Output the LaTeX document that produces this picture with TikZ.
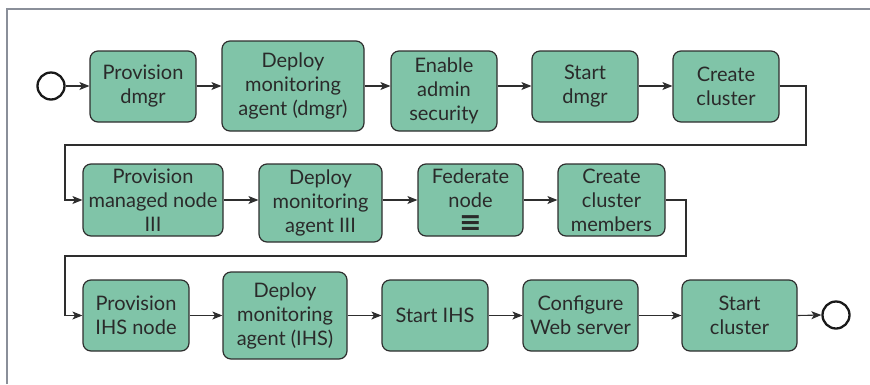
\documentclass[tikz,border=0pt]{standalone}
\usepackage{fontspec}
\setmainfont{Lato}
\newfontfamily\symfont{DejaVu Sans}
\usetikzlibrary{arrows.meta}
\definecolor{boxfill}{HTML}{80C4A8}
\definecolor{boxline}{HTML}{2E2E2E}
\definecolor{framec}{HTML}{8A8F99}
\definecolor{txt}{HTML}{2A2A2A}
\begin{document}
\begin{tikzpicture}[x=1pt,y=-1pt,
  task/.style={draw=boxline,fill=boxfill,line width=1.2pt,rounded corners=8pt,
    align=center,text=txt,inner sep=0pt,
    font=\fontsize{20}{24}\selectfont},
  ev/.style={draw=black!90,line width=2.3pt,circle,minimum size=27pt,inner sep=0pt},
  flow/.style={draw=boxline,line width=1.1pt,-{Stealth[length=10pt,width=8pt,inset=2.5pt]}}]
\useasboundingbox (0,0) rectangle (870,384);
\draw[framec,line width=1.5pt] (7,384) -- (7,9) -- (870,9);
% row 1
\node[ev] (s0) at (51,86) {};
\node[task,minimum width=106pt,minimum height=71pt] (a1) at (143,86.5) {Provision\\dmgr};
\node[task,minimum width=142pt,minimum height=90pt] (a2) at (293,86) {Deploy\\monitoring\\agent (dmgr)};
\node[task,minimum width=106pt,minimum height=80pt] (a3) at (444,91) {Enable\\admin\\security};
\node[task,minimum width=106pt,minimum height=71pt] (a4) at (585,86.5) {Start\\dmgr};
\node[task,minimum width=106pt,minimum height=71pt] (a5) at (726,86.5) {Create\\cluster};
% row 2
\node[task,minimum width=140pt,minimum height=72pt] (b1) at (153,200) {Provision\\managed node\\III};
\node[task,minimum width=123pt,minimum height=78pt] (b2) at (320.5,203) {Deploy\\monitoring\\agent III};
\node[task,minimum width=105pt,minimum height=72pt] (b3) at (470.5,200) {Federate\\node\\{\symfont\bfseries\fontsize{27}{22}\selectfont ≡}};
\node[task,minimum width=107pt,minimum height=72pt] (b4) at (611.5,200) {Create\\cluster\\members};
% row 3
\node[task,minimum width=106pt,minimum height=71pt] (c1) at (136,315.5) {Provision\\IHS node};
\node[task,minimum width=124pt,minimum height=87pt] (c2) at (285,315.5) {Deploy\\monitoring\\agent (IHS)};
\node[task,minimum width=106pt,minimum height=71pt] (c3) at (435,315.5) {Start IHS};
\node[task,minimum width=115pt,minimum height=71pt] (c4) at (580.5,315.5) {Configure\\Web server};
\node[task,minimum width=115pt,minimum height=71pt] (c5) at (739.5,315.5) {Start\\cluster};
\node[ev] (e0) at (836,315) {};
% flows row 1
\draw[flow] (s0) -- (s0 -| a1.west);
\draw[flow] (a1.east |- 0,86) -- (a2.west |- 0,86);
\draw[flow] (a2.east |- 0,86) -- (a3.west |- 0,86);
\draw[flow] (a3.east |- 0,86) -- (a4.west |- 0,86);
\draw[flow] (a4.east |- 0,86) -- (a5.west |- 0,86);
\coordinate (k1) at (806,145);
\coordinate (k2) at (65,145);
\draw[flow] (a5.east |- 0,86) -| (k1) -- (k2) |- (b1.west);
% flows row 2
\draw[flow] (b1.east) -- (b2.west |- b1.east);
\draw[flow] (b2.east |- b1.east) -- (b3.west);
\draw[flow] (b3.east) -- (b4.west);
\coordinate (k3) at (686,256);
\coordinate (k4) at (65,256);
\draw[flow] (b4.east) -| (k3) -- (k4) |- (c1.west);
% flows row 3
\draw[flow] (c1.east) -- (c2.west);
\draw[flow] (c2.east) -- (c3.west);
\draw[flow] (c3.east) -- (c4.west);
\draw[flow] (c4.east) -- (c5.west);
\draw[flow] (c5.east) -- (e0.west);
\end{tikzpicture}
\end{document}
